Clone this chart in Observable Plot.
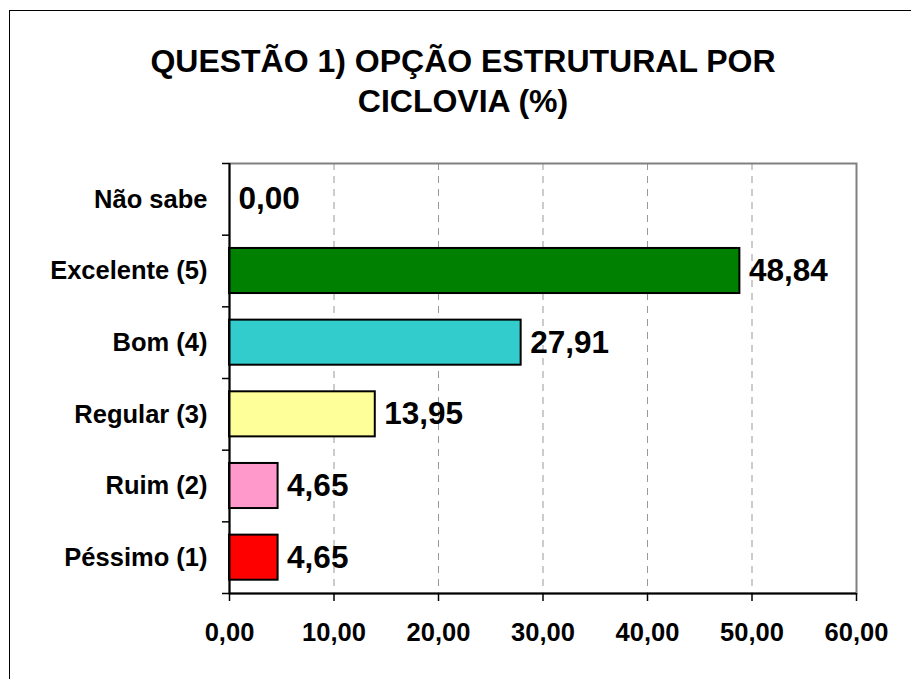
<!DOCTYPE html>
<html>
<head>
<meta charset="utf-8">
<script src="https://cdn.jsdelivr.net/npm/d3@7"></script>
<script src="https://cdn.jsdelivr.net/npm/@observablehq/plot@0.6"></script>
<style>
  html, body { margin: 0; padding: 0; background: #fff; overflow: hidden; }
  #wrap { position: relative; width: 911px; height: 679px; overflow: hidden; font-family: "Liberation Sans", Arial, sans-serif; }
  #border { position: absolute; left: 8.5px; top: 9.5px; width: 2000px; height: 2000px; border: 1.5px solid #000; box-sizing: border-box; pointer-events: none; }
  #title { position: absolute; left: 0; top: 41px; width: 926px; text-align: center; font-size: 32px; font-weight: bold; line-height: 40px; color: #000; }
  #chart { position: absolute; left: 0; top: 0; }
</style>
</head>
<body>
<div id="wrap">
  <div id="chart"></div>
  <div id="border"></div>
  <div id="title">QUESTÃO 1) OPÇÃO ESTRUTURAL POR<br>CICLOVIA (%)</div>
</div>
<script>
const categories = ["Não sabe", "Excelente (5)", "Bom (4)", "Regular (3)", "Ruim (2)", "Péssimo (1)"];
const values = [0.00, 48.84, 27.91, 13.95, 4.65, 4.65];
const colors = ["#FFFFFF", "#008000", "#33CCCC", "#FFFF99", "#FF99CC", "#FF0000"];
const xTicks = [0, 10, 20, 30, 40, 50, 60];
const titleLines = ["QUESTÃO 1) OPÇÃO ESTRUTURAL POR", "CICLOVIA (%)"];

const fmt = v => d3.format(".2f")(v).replace(".", ",");
const data = categories.map((c, i) => ({cat: c, i, value: values[i], color: colors[i]}));
const boundaries = d3.range(categories.length + 1);
const centers = categories.map((c, i) => i + 0.5);

const font = "'Liberation Sans', Arial, sans-serif";

const plot = Plot.plot({
  width: 911,
  height: 679,
  marginLeft: 229,
  marginRight: 55,
  marginTop: 163,
  marginBottom: 86,
  style: {fontFamily: font, fontWeight: "bold", color: "#000", background: "transparent"},
  x: {domain: [0, 60], label: null},
  y: {domain: [0, categories.length], reverse: true, label: null},
  marks: [
    Plot.gridX(xTicks.slice(1, -1), {stroke: "#999999", strokeOpacity: 1, strokeWidth: 1, strokeDasharray: "7,6"}),
    Plot.frame({stroke: "#808080", strokeWidth: 2}),
    Plot.rectX(data.filter(d => d.value > 0), {
      x1: 0, x2: "value", y1: "i", y2: d => d.i + 1,
      fill: "color", stroke: "#000", strokeWidth: 2,
      insetTop: 13.3, insetBottom: 13.3
    }),
    Plot.ruleX([0], {stroke: "#000", strokeWidth: 2}),
    Plot.ruleY([categories.length], {stroke: "#000", strokeWidth: 2}),
    Plot.axisX({ticks: xTicks, tickFormat: fmt, tickSize: 8, tickPadding: 21, fontSize: 25.5, fontWeight: "bold", stroke: "#000", strokeWidth: 1.5, fill: "#000", label: null}),
    Plot.axisY({ticks: boundaries, tickFormat: () => "", tickSize: 7, stroke: "#000", strokeWidth: 1.5, label: null}),
    Plot.axisY({ticks: centers, tickFormat: v => categories[Math.floor(v)], tickSize: 0, tickPadding: 22, fontSize: 25.5, fontWeight: "bold", fill: "#000", label: null}),
    Plot.text(data, {x: "value", y: d => d.i + 0.5, text: d => fmt(d.value), textAnchor: "start", dx: 9, fontSize: 31.5, fontWeight: "bold", fill: "#000"})
  ]
});
document.getElementById("chart").appendChild(plot);
document.getElementById("title").innerHTML = titleLines.join("<br>");
</script>
</body>
</html>
